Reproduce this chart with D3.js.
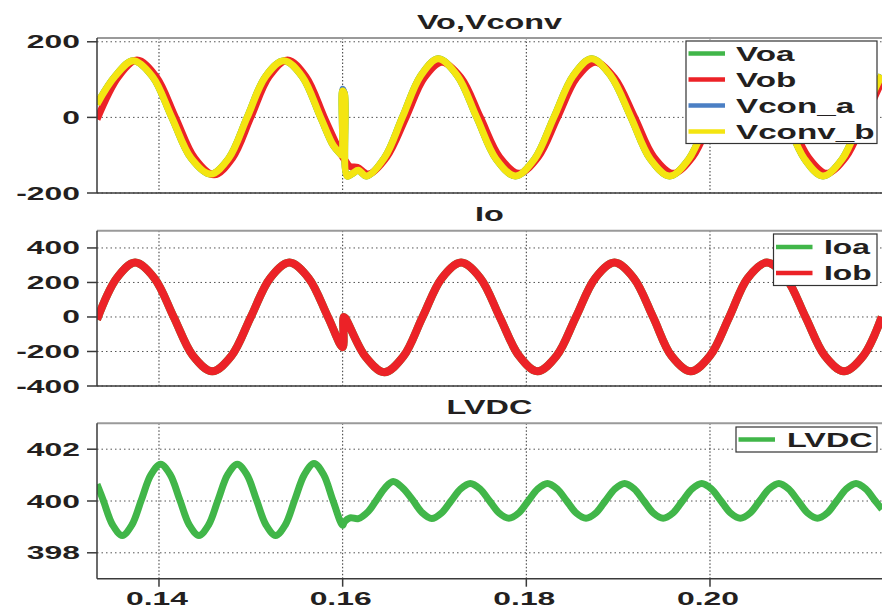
<!DOCTYPE html>
<html lang="en">
<head>
    <meta charset="UTF-8">
    <title>Vo, Io, LVDC</title>
    <script src="https://d3js.org/d3.v7.min.js"></script>
    <style>
        body { margin: 0; background: #fff; }
        svg { display: block; }
        text { font-family: "Liberation Sans", Arial, sans-serif; font-weight: bold; fill: #231f20; }
    </style>
</head>
<body>
<script>
    // ---- data ----
    const xTicks = [0.14, 0.16, 0.18, 0.20];
    const vTicks = [-200, 0, 200];
    const iTicks = [-400, -200, 0, 200, 400];
    const dcTicks = [398, 400, 402];

    // Vo / Vconv (panel 1)
    const tConvB = [0.13325, 0.1352, 0.1372, 0.1393, 0.1414, 0.1435, 0.1456, 0.1476, 0.1496, 0.1516, 0.1536, 0.1556, 0.1576, 0.1590, 0.1597,
        0.15990, 0.16000, 0.16020, 0.16050, 0.16110, 0.16170, 0.16260, 0.1646, 0.1665, 0.1685, 0.1704, 0.1725, 0.1746, 0.1767, 0.1788,
        0.1809, 0.1830, 0.1851, 0.1871, 0.1892, 0.1914, 0.1935, 0.1956, 0.1977, 0.1998, 0.2019, 0.2040, 0.2061, 0.2082, 0.2103,
        0.2123, 0.2144, 0.2165, 0.2187];
    const vConvB = [35, 108, 150, 108, 0, -108, -150, -108, 0, 108, 150, 108, 0, -75, -95,
        -100, 70, 62, -155, -148, -140, -155, -105, 0, 110, 155, 110, 0, -110, -155,
        -110, 0, 110, 155, 110, 0, -110, -155, -110, 0, 110, 155, 110, 0, -110,
        -155, -110, 0, 112];
    const vConA = [35, 108, 150, 108, 0, -108, -150, -108, 0, 108, 150, 108, 0, -75, -95,
        -100, 76, 66, -155, -148, -140, -155, -105, 0, 110, 155, 110, 0, -110, -155,
        -110, 0, 110, 155, 110, 0, -110, -155, -110, 0, 110, 155, 110, 0, -110,
        -155, -110, 0, 112];
    const vOa = vConvB;
    const tOb = [0.13325, 0.1356, 0.1376, 0.1397, 0.1418, 0.1439, 0.1460, 0.1480, 0.1500, 0.1520, 0.1540, 0.1560, 0.1580, 0.1595, 0.1600,
        0.1603, 0.1608, 0.1616, 0.1628, 0.1648, 0.1669, 0.1689, 0.1708, 0.1729, 0.1750, 0.1771, 0.1792, 0.1813, 0.1834, 0.1855,
        0.1875, 0.1896, 0.1918, 0.1939, 0.1960, 0.1981, 0.2002, 0.2023, 0.2044, 0.2065, 0.2086, 0.2107, 0.2127, 0.2148, 0.2169, 0.2187];
    const vOb = [-5, 108, 152, 108, 0, -108, -152, -108, 0, 108, 152, 108, 0, -80, -105,
        -115, -130, -132, -150, -105, 0, 105, 146, 105, 0, -105, -148, -105, 0, 105,
        146, 105, 0, -105, -148, -105, 0, 105, 146, 105, 0, -105, -148, -105, 0, 95];

    // Io (panel 2)
    const tIo = [0.13325, 0.1354, 0.1374, 0.1395, 0.1416, 0.1437, 0.1458, 0.1479, 0.1500, 0.1521, 0.1542, 0.1563, 0.1584, 0.1600,
        0.16012, 0.1603, 0.16245, 0.16453, 0.16662, 0.1687, 0.1708, 0.1729, 0.1750, 0.1771, 0.1792, 0.1812, 0.1833, 0.1854, 0.1875,
        0.1896, 0.1917, 0.1938, 0.1958, 0.1979, 0.2000, 0.2021, 0.2041, 0.2062, 0.2083, 0.2104, 0.2125, 0.2146, 0.2167, 0.2187];
    const ioB = [-15, 225, 315, 225, 0, -225, -315, -225, 0, 225, 315, 225, 0, -175,
        0, -8, -228, -320, -228, 0, 225, 315, 225, 0, -225, -315, -225, 0, 225,
        315, 225, 0, -225, -315, -225, 0, 225, 315, 225, 0, -225, -315, -225, 0];
    const ioA = ioB;

    // LVDC (panel 3)
    const tDc = [0.13325, 0.13391, 0.13496, 0.13600, 0.13704, 0.13809, 0.13913, 0.14018, 0.14122, 0.14226, 0.14331, 0.14435,
        0.14539, 0.14644, 0.14748, 0.14853, 0.14957, 0.15061, 0.15166, 0.15270, 0.15374, 0.15479, 0.15583, 0.15688, 0.15792,
        0.15896, 0.16000, 0.16020, 0.16080, 0.16170, 0.16280, 0.16380, 0.16460,
        0.16550, 0.16655, 0.16760, 0.16865, 0.16970, 0.17075, 0.17180, 0.17285, 0.17390, 0.17495, 0.17600, 0.17705,
        0.17810, 0.17915, 0.18020, 0.18125, 0.18230, 0.18335, 0.18440, 0.18545, 0.18650, 0.18755, 0.18860, 0.18965,
        0.19070, 0.19175, 0.19280, 0.19385, 0.19490, 0.19595, 0.19700, 0.19805, 0.19910, 0.20015, 0.20120, 0.20225,
        0.20330, 0.20435, 0.20540, 0.20645, 0.20750, 0.20855, 0.20960, 0.21065, 0.21170, 0.21275, 0.21380, 0.21485,
        0.21590, 0.21695, 0.21800, 0.21873];
    const lvdc = [400.65, 400.05, 399.07, 398.67, 399.07, 400.05, 401.02, 401.42, 401.02, 400.05, 399.07, 398.67,
        399.07, 400.05, 401.02, 401.42, 401.02, 400.05, 399.07, 398.67, 399.07, 400.05, 401.02, 401.45, 401.02,
        400.0, 399.06, 399.2, 399.35, 399.32, 399.6, 400.1, 400.5,
        400.75, 400.5, 400.05, 399.55, 399.32, 399.53, 400.0, 400.47, 400.68, 400.47, 400.0, 399.53,
        399.33, 399.53, 400.0, 400.47, 400.68, 400.47, 400.0, 399.53, 399.33, 399.53, 400.0, 400.47,
        400.68, 400.47, 400.0, 399.53, 399.33, 399.53, 400.0, 400.47, 400.68, 400.47, 400.0, 399.53,
        399.33, 399.53, 400.0, 400.47, 400.68, 400.47, 400.0, 399.53, 399.33, 399.53, 400.0, 400.47,
        400.68, 400.47, 400.0, 399.68];

    const GREEN = "#41b649", RED = "#ec2227", BLUE = "#4b7fc4", YELLOW = "#f4e511";

    // ---- layout ----
    const W = 882, H = 612;
    const left = 97, right = 882;
    const svg = d3.select("body").append("svg").attr("width", W).attr("height", H);

    const x = d3.scaleLinear().domain([0.13325, 0.21873]).range([left, right]);

    // stretch text horizontally (the figure's lettering is wide)
    function stretch(sel, k) {
        sel.each(function () {
            const w = this.getComputedTextLength();
            this.setAttribute("textLength", w * k);
            this.setAttribute("lengthAdjust", "spacingAndGlyphs");
        });
    }

    const panels = [
        {
            id: "p1", top: 38, bottom: 193, domain: [-200, 210], ticks: vTicks, title: "Vo,Vconv",
            series: [
                { name: "Voa", t: tConvB, v: vOa, color: GREEN, w: 7 },
                { name: "Vob", t: tOb, v: vOb, color: RED, w: 7 },
                { name: "Vcon_a", t: tConvB, v: vConA, color: BLUE, w: 6 },
                { name: "Vconv_b", t: tConvB, v: vConvB, color: YELLOW, w: 7 }
            ],
            legend: { x0: 686, x1: 877, y0: 41, y1: 143.5, first: 53.5, step: 26, font: 20.5, k: 1.62, textX: 736 }
        },
        {
            id: "p2", top: 230.7, bottom: 386, domain: [-400, 500], ticks: iTicks, title: "Io",
            series: [
                { name: "Ioa", t: tIo, v: ioA, color: GREEN, w: 8 },
                { name: "Iob", t: tIo, v: ioB, color: RED, w: 8 }
            ],
            legend: { x0: 773.5, x1: 877, y0: 234, y1: 285.5, first: 247, step: 26, font: 19.5, k: 1.63, textX: 824 }
        },
        {
            id: "p3", top: 423.3, bottom: 578.7, domain: [397, 403], ticks: dcTicks, title: "LVDC",
            series: [
                { name: "LVDC", t: tDc, v: lvdc, color: GREEN, w: 7 }
            ],
            legend: { x0: 736, x1: 877, y0: 427, y1: 452, first: 439.5, step: 26, font: 19.5, k: 1.66, textX: 787 }
        }
    ];

    panels.forEach((p, pi) => {
        const y = d3.scaleLinear().domain(p.domain).range([p.bottom, p.top]);
        const g = svg.append("g");

        svg.append("clipPath").attr("id", "clip-" + p.id)
            .append("rect").attr("x", left).attr("y", p.top)
            .attr("width", right - left).attr("height", p.bottom - p.top);

        // dotted grid
        g.selectAll(".hgrid").data(p.ticks).enter().append("line")
            .attr("x1", left).attr("x2", right)
            .attr("y1", d => y(d)).attr("y2", d => y(d))
            .attr("stroke", "#555").attr("stroke-width", 1).attr("stroke-dasharray", "1.5,3");
        g.selectAll(".vgrid").data(xTicks).enter().append("line")
            .attr("x1", d => x(d)).attr("x2", d => x(d))
            .attr("y1", p.top).attr("y2", p.bottom)
            .attr("stroke", "#333").attr("stroke-width", 1).attr("stroke-dasharray", "1.5,2");

        // curves
        const line = d3.line().curve(d3.curveCatmullRom.alpha(0.5));
        const plot = g.append("g").attr("clip-path", "url(#clip-" + p.id + ")");
        p.series.forEach(s => {
            plot.append("path")
                .attr("d", line(s.t.map((t, i) => [x(t), y(s.v[i])])))
                .attr("fill", "none")
                .attr("stroke", s.color)
                .attr("stroke-width", s.w)
                .attr("stroke-linejoin", "round")
                .attr("stroke-linecap", "butt");
        });

        // frame
        g.append("line").attr("x1", left).attr("x2", right).attr("y1", p.top).attr("y2", p.top)
            .attr("stroke", "#9a9a9a").attr("stroke-width", 2);
        g.append("line").attr("x1", left).attr("x2", right).attr("y1", p.bottom).attr("y2", p.bottom)
            .attr("stroke", "#3a3a3a").attr("stroke-width", 1.5);
        g.append("line").attr("x1", left).attr("x2", left).attr("y1", p.top).attr("y2", p.bottom)
            .attr("stroke", "#3a3a3a").attr("stroke-width", 1.5);

        // y axis ticks + labels
        g.selectAll(".ytick").data(p.ticks).enter().append("line")
            .attr("x1", left - 10).attr("x2", left)
            .attr("y1", d => y(d)).attr("y2", d => y(d))
            .attr("stroke", "#3a3a3a").attr("stroke-width", 1.5);
        const yl = g.selectAll(".ylab").data(p.ticks).enter().append("text")
            .attr("x", 80).attr("y", d => y(d) + 6.5)
            .attr("text-anchor", "end").attr("font-size", 17.7)
            .text(d => d);
        stretch(yl, 1.8);

        // title
        const tt = g.append("text").attr("x", (left + right) / 2).attr("y", p.top - 9.5)
            .attr("text-anchor", "middle").attr("font-size", 19.5).text(p.title);
        stretch(tt, 1.66);

        // x axis on the last panel
        if (pi === panels.length - 1) {
            g.selectAll(".xtick").data(xTicks).enter().append("line")
                .attr("x1", d => x(d)).attr("x2", d => x(d))
                .attr("y1", p.bottom).attr("y2", p.bottom + 8)
                .attr("stroke", "#3a3a3a").attr("stroke-width", 1.5);
            const xl = g.selectAll(".xlab").data(xTicks).enter().append("text")
                .attr("x", d => x(d) - 2).attr("y", 604.5)
                .attr("text-anchor", "middle").attr("font-size", 17.7)
                .text(d => d3.format(".2f")(d));
            stretch(xl, 1.8);
        }

        // legend
        const L = p.legend;
        const lg = g.append("g");
        lg.append("rect").attr("x", L.x0).attr("y", L.y0)
            .attr("width", L.x1 - L.x0).attr("height", L.y1 - L.y0)
            .attr("fill", "#fff").attr("stroke", "#333").attr("stroke-width", 1.2);
        p.series.forEach((s, i) => {
            const ly = L.first + i * L.step;
            lg.append("line").attr("x1", L.x0 + 2.5).attr("x2", L.x0 + 39)
                .attr("y1", ly).attr("y2", ly)
                .attr("stroke", s.color).attr("stroke-width", 4.5);
            const lt = lg.append("text").attr("x", L.textX).attr("y", ly + 7.3)
                .attr("font-size", L.font).text(s.name);
            stretch(lt, L.k);
        });
    });
</script>
</body>
</html>
